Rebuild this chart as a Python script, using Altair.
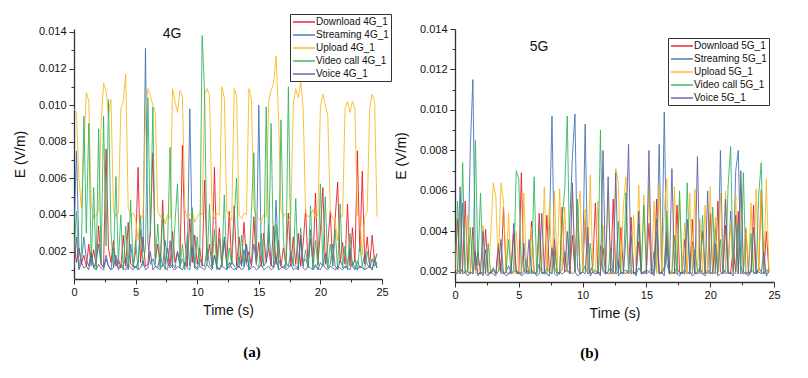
import altair as alt
import pandas as pd

STEP = 0.2  # seconds between samples

# ---------------- 4G (values in mV/m) ----------------
download_4g = [
    2.8, 1.4, 2.2, 1.3, 1.8,  1.2, 2.4, 1.3, 2.1, 1.2,  3.4, 1.3, 1.2, 7.6, 2.2,
    1.4, 2.6, 1.2, 1.6, 1.1,  2.9, 1.2, 3.6, 1.3, 1.2,  2.0, 6.6, 1.4, 2.8, 1.2,
    1.3, 3.2, 7.4, 1.5, 2.4,  1.2, 4.8, 1.3, 2.2, 1.2,  3.1, 1.4, 2.0, 1.3, 7.8,
    2.6, 1.2, 3.8, 1.4, 2.9,  1.3, 2.2, 1.2, 5.9, 1.5,  2.4, 1.2, 6.6, 1.4, 3.3,
    1.2, 2.6, 1.4, 4.2, 1.3,  4.5, 1.2, 2.8, 1.3, 3.6,  1.4, 2.0, 1.2, 3.9, 1.3,
    2.5, 1.2, 3.0, 1.4, 2.2,  1.2, 3.4, 1.3, 2.6, 1.2,  2.2, 1.3, 4.1, 1.2, 2.8,
    1.3, 3.0, 1.2, 2.4, 4.3,  1.2, 2.7, 1.4, 5.2, 1.3,  3.1, 5.5, 1.3, 2.4, 4.2,
    1.2, 3.8, 5.8, 1.4, 2.5,  1.3, 4.6, 1.2, 3.3, 1.4,  7.5, 2.0, 6.4, 1.3, 2.8,
    1.2, 2.9, 1.4, 1.9,
]
streaming_4g = [
    3.0, 7.5, 2.2, 1.4, 2.8,  1.6, 1.2, 2.0, 1.1, 1.5,  2.4, 1.3, 1.1, 1.8, 1.2,
    1.0, 2.2, 1.4, 1.1, 1.3,  1.2, 1.7, 1.0, 2.4, 1.3,  1.1, 1.4, 3.2, 2.0, 13.1,
    2.5, 1.3, 1.6, 1.2, 1.1,  1.9, 1.2, 2.6, 1.4, 1.1,  1.3, 1.1, 2.0, 1.2, 1.6,
    1.2, 1.5, 9.8, 2.4, 1.2,  1.1, 1.6, 1.3, 1.2, 2.2,  1.3, 1.1, 1.8, 1.2, 1.0,
    1.4, 2.8, 1.2, 1.1, 1.5,  1.2, 1.0, 1.7, 1.2, 2.1,  1.3, 1.1, 1.2, 2.4, 1.4,
    10.0, 1.8, 1.2, 1.4, 3.5, 1.3, 1.1, 4.8, 1.6, 1.2,  1.1, 1.4, 1.2, 2.0, 1.3,
    1.2, 1.1, 2.7, 1.4, 1.6,  1.2, 3.2, 1.1, 1.3, 1.0,  1.4, 1.2, 1.9, 1.1, 1.3,
    2.4, 1.2, 1.0, 1.5, 1.2,  1.1, 1.3, 2.2, 1.2, 1.0,  1.5, 1.1, 1.2, 1.9, 1.3,
    1.1, 1.6, 1.2, 1.4,
]
upload_4g = [
    9.8, 9.6, 6.0, 4.4, 7.5,  10.7, 10.2, 4.6, 3.8, 4.0,  4.2, 9.0, 11.2, 10.8, 9.5,
    10.3, 4.3, 3.9, 4.1, 9.8,  10.2, 11.7, 4.4, 3.9, 4.1,  3.8, 2.6, 4.0, 3.8, 9.5,
    10.9, 10.5, 10.0, 9.6, 4.2,  3.9, 4.1, 3.5, 4.0, 3.8,  10.9, 10.2, 9.6, 10.8, 10.5,
    4.3, 3.8, 4.0, 4.2, 3.6,  3.9, 4.1, 4.0, 10.6, 10.9,  10.5, 4.4, 3.8, 4.1, 4.0,
    11.0, 10.4, 4.2, 3.9, 3.7,  10.9, 10.5, 4.0, 3.8, 4.1,  4.0, 10.9, 10.3, 4.4, 3.9,
    3.8, 3.6, 4.0, 3.9, 10.2,  10.8, 11.2, 12.7, 9.4, 4.3,  3.9, 4.1, 3.7, 4.0, 10.1,
    10.9, 10.4, 11.3, 9.8, 4.1,  3.9, 4.0, 4.3, 3.8, 4.0,  9.9, 10.6, 10.0, 9.4, 4.2,
    3.8, 3.6, 2.6, 4.0, 3.9,  9.8, 10.2, 9.6, 10.2, 9.8,  4.0, 3.8, 1.8, 3.9, 4.2,
    9.8, 10.6, 10.2, 3.9,
]
videocall_4g = [
    1.8, 4.2, 1.1, 2.0, 9.4,  3.0, 9.0, 1.2, 5.5, 1.0,  8.7, 1.4, 9.4, 2.3, 10.3,
    3.1, 1.1, 6.1, 1.3, 4.0,  1.0, 3.4, 1.2, 4.8, 1.1,  2.6, 1.0, 3.9, 1.2, 2.2,
    10.4, 2.8, 9.9, 1.3, 3.5,  1.1, 4.1, 1.0, 2.5, 7.7,  1.2, 3.6, 5.7, 1.1, 2.4,
    1.0, 3.0, 1.2, 4.4, 1.1,  2.8, 1.2, 13.8, 10.6, 1.3,  4.6, 1.1, 3.2, 1.0, 2.7,
    1.2, 5.1, 1.0, 2.2, 1.3,  3.8, 6.0, 1.1, 2.9, 1.2,  2.4, 1.0, 4.2, 7.4, 1.3,
    1.1, 3.0, 1.2, 9.9, 2.1,  9.0, 1.3, 3.5, 1.0, 9.2,  2.6, 1.1, 11.0, 2.0, 1.2,
    4.9, 1.0, 3.3, 1.2, 2.1,  1.1, 4.5, 1.0, 2.6, 1.2,  5.7, 1.3, 5.0, 1.1, 2.4,
    1.2, 3.2, 1.0, 4.6, 1.1,  2.3, 1.0, 3.0, 1.2, 1.6,  1.0, 2.4, 1.2, 1.0, 2.0,
    1.3, 1.0, 1.8, 1.1,
]
voice_4g = [
    1.1, 2.8, 1.0, 1.4, 1.1,  1.2, 1.0, 1.9, 1.1, 1.0,  1.3, 1.1, 1.0, 1.6, 1.2,
    1.0, 1.1, 1.8, 1.0, 1.2,  1.1, 1.0, 1.3, 1.1, 1.0,  1.2, 1.0, 1.1, 1.5, 1.0,
    1.1, 2.0, 1.0, 1.2, 1.1,  1.0, 1.3, 1.1, 1.0, 2.6,  1.1, 1.0, 1.2, 1.1, 1.0,
    1.4, 1.1, 1.0, 2.2, 1.1,  1.0, 1.2, 1.1, 1.0, 1.3,  1.1, 1.0, 1.8, 1.1, 1.0,
    1.2, 1.1, 1.0, 1.4, 1.1,  1.0, 1.1, 1.2, 1.0, 1.1,  2.4, 1.0, 1.1, 1.2, 1.0,
    1.1, 1.3, 1.0, 1.1, 1.2,  1.0, 1.1, 1.7, 1.0, 1.1,  1.2, 1.0, 1.1, 1.3, 1.0,
    1.1, 1.0, 2.9, 1.1, 1.0,  1.2, 1.1, 1.0, 1.2, 1.1,  1.0, 1.3, 1.1, 1.0, 1.2,
    1.1, 1.0, 1.2, 1.1, 1.0,  1.2, 1.1, 1.0, 1.4, 1.1,  1.0, 1.2, 1.1, 1.0, 1.1,
    1.2, 1.0, 1.5, 1.1,
]

# ---------------- 5G (values in mV/m) ----------------
download_5g = [
    2.0, 4.6, 1.9, 2.2, 5.5,  2.0, 1.9, 4.2, 2.1, 3.0,  1.9, 2.0, 4.1, 1.9, 2.0,
    2.1, 1.9, 3.4, 2.0, 5.2,  2.0, 1.9, 2.1, 3.9, 2.0,  1.9, 6.9, 2.0, 2.1, 1.9,
    4.5, 2.0, 1.9, 4.9, 2.0,  1.9, 4.8, 2.0, 1.9, 3.6,  2.0, 1.9, 5.2, 2.0, 2.1,
    1.9, 3.8, 2.0, 5.1, 1.9,  2.0, 4.6, 1.9, 2.0, 2.3,  5.4, 1.9, 2.0, 3.2, 2.0,
    1.9, 2.0, 5.6, 1.9, 2.0,  4.2, 2.0, 1.9, 2.1, 4.7,  1.9, 2.0, 3.5, 1.9, 2.0,
    2.1, 4.4, 1.9, 2.0, 5.6,  1.9, 2.0, 2.2, 4.0, 1.9,  2.0, 1.9, 5.3, 2.0, 1.9,
    3.6, 2.0, 1.9, 4.6, 2.0,  1.9, 2.1, 4.0, 1.9, 2.0,  4.9, 1.9, 2.0, 5.5, 2.0,
    1.9, 4.3, 2.0, 1.9, 3.2,  2.0, 5.0, 1.9, 2.0, 4.1,  1.9, 2.0, 5.3, 1.9, 2.1,
    6.0, 1.9, 4.0, 2.0,
]
streaming_5g = [
    2.0, 1.9, 2.2, 5.4, 2.0,  2.1, 8.1, 11.5, 2.3, 1.9,  2.0, 1.8, 3.1, 1.9, 2.0,
    2.2, 1.9, 2.0, 3.6, 1.9,  2.0, 2.3, 1.9, 2.0, 2.1,  1.9, 2.0, 3.4, 1.9, 2.0,
    2.1, 1.9, 2.0, 2.4, 1.9,  2.0, 1.9, 4.1, 9.7, 2.2,  1.9, 2.0, 2.1, 3.0, 2.0,
    4.5, 7.7, 9.8, 2.2, 1.9,  2.0, 9.3, 2.4, 1.9, 2.0,  2.1, 1.9, 3.3, 2.0, 1.9,
    2.0, 2.2, 1.9, 2.0, 2.6,  1.9, 2.0, 2.1, 1.9, 3.8,  2.0, 1.9, 2.2, 2.0, 1.9,
    2.1, 2.0, 1.9, 3.0, 2.0,  8.3, 1.9, 9.9, 2.4, 2.0,  1.9, 2.0, 2.2, 1.9, 2.0,
    2.1, 1.9, 2.0, 3.5, 1.9,  2.0, 2.2, 1.9, 2.0, 2.1,  1.9, 2.0, 4.2, 2.0, 8.0,
    2.2, 1.9, 2.0, 5.0, 2.1,  7.0, 8.0, 2.3, 1.9, 2.0,  1.9, 2.1, 2.0, 1.9, 2.2,
    2.0, 1.9, 2.1, 2.0,
]
upload_5g = [
    2.2, 2.0, 5.0, 2.1, 1.9,  4.8, 2.0, 3.5, 1.9, 2.1,  2.0, 4.3, 2.1, 1.9, 3.8,
    6.4, 5.7, 2.0, 6.4, 5.5,  2.1, 4.9, 2.0, 1.9, 4.0,  2.0, 1.9, 5.9, 2.1, 2.0,
    4.2, 2.0, 1.9, 3.5, 2.1,  6.2, 2.0, 5.4, 1.9, 6.0,  2.0, 6.1, 2.1, 5.2, 2.0,
    1.9, 6.0, 2.1, 4.6, 6.0,  2.0, 5.1, 1.9, 6.8, 2.1,  2.0, 5.5, 1.9, 4.3, 2.0,
    6.0, 2.1, 1.9, 7.1, 6.4,  2.0, 5.3, 6.7, 2.1, 1.9,  4.8, 2.0, 6.3, 1.9, 5.8,
    2.0, 6.4, 2.1, 5.5, 1.9,  6.3, 2.0, 5.0, 6.6, 2.1,  1.9, 6.2, 2.0, 5.6, 2.0,
    4.4, 1.9, 5.9, 2.1, 6.1,  2.0, 4.6, 2.0, 5.3, 1.9,  6.2, 2.1, 4.7, 1.9, 5.9,
    2.0, 6.0, 2.1, 4.5, 2.0,  5.8, 1.9, 6.3, 2.0, 4.2,  2.1, 5.4, 1.9, 6.1, 2.0,
    6.1, 2.0, 6.6, 2.0,
]
videocall_5g = [
    2.1, 5.5, 1.9, 7.4, 2.0,  2.0, 4.2, 1.9, 8.5, 2.3,  5.9, 1.9, 2.0, 3.4, 1.9,
    2.1, 1.9, 2.0, 2.4, 1.9,  2.0, 3.6, 1.9, 2.1, 7.0,  6.6, 1.9, 2.0, 2.6, 1.9,
    2.0, 6.7, 1.9, 4.1, 2.0,  1.9, 2.2, 2.0, 1.9, 3.0,  2.0, 1.9, 4.6, 6.1, 9.7,
    2.1, 1.9, 2.0, 5.6, 1.9,  2.0, 2.3, 1.9, 3.4, 2.0,  1.9, 2.0, 9.0, 2.2, 1.9,
    2.0, 3.2, 1.9, 2.0, 4.5,  1.9, 2.0, 5.9, 1.9, 2.1,  2.0, 1.9, 4.4, 2.0, 5.3,
    1.9, 2.0, 2.2, 1.9, 4.0,  2.0, 1.9, 2.1, 5.0, 1.9,  2.0, 3.8, 1.9, 6.0, 2.0,
    1.9, 6.4, 2.0, 1.9, 3.1,  2.0, 1.9, 4.8, 2.0, 1.9,  2.1, 5.2, 1.9, 2.0, 3.6,
    1.9, 2.0, 6.2, 8.2, 2.0,  1.9, 4.4, 2.0, 6.9, 1.9,  2.0, 3.9, 1.9, 2.0, 5.8,
    7.4, 2.0, 1.9, 2.1,
]
voice_5g = [
    1.9, 2.0, 6.2, 1.9, 2.0,  1.8, 2.0, 1.9, 3.0, 1.8,  2.0, 4.0, 1.9, 1.8, 2.0,
    1.9, 1.8, 3.2, 1.9, 2.0,  1.8, 1.9, 2.0, 4.4, 1.9,  2.0, 1.8, 1.9, 2.0, 3.6,
    1.9, 2.0, 1.8, 1.9, 4.9,  2.0, 1.9, 1.8, 3.2, 1.9,  1.8, 2.0, 1.9, 2.0, 4.0,
    1.9, 6.4, 2.0, 1.8, 1.9,  2.0, 1.9, 4.2, 1.8, 2.0,  1.9, 2.0, 1.8, 8.0, 1.9,
    6.7, 1.9, 2.0, 6.9, 1.8,  2.0, 1.9, 3.8, 8.3, 1.9,  2.0, 1.8, 5.0, 1.9, 2.0,
    1.9, 8.0, 2.0, 1.8, 4.6,  1.9, 2.0, 1.8, 3.3, 1.9,  7.1, 2.0, 1.9, 1.8, 2.0,
    1.9, 4.6, 2.0, 1.8, 1.9,  7.7, 2.0, 1.9, 1.8, 6.0,  1.9, 2.0, 3.4, 1.8, 1.9,
    2.0, 5.6, 1.9, 2.0, 1.8,  4.8, 1.9, 7.0, 2.0, 1.9,  1.8, 2.0, 4.2, 1.9, 2.0,
    1.9, 3.0, 1.8, 2.0,
]

names_4g = ["Download 4G_1", "Streaming 4G_1", "Upload 4G_1", "Video call 4G_1", "Voice 4G_1"]
names_5g = ["Download 5G_1", "Streaming 5G_1", "Upload 5G_1", "Video call 5G_1", "Voice 5G_1"]
colors = ["#e8141c", "#3d6fb0", "#f7b719", "#2eb35c", "#585ca5"]

x_ticks = [0, 2.5, 5, 7.5, 10, 12.5, 15, 17.5, 20, 22.5, 25]
y_ticks_4g = [i / 1000 for i in range(1, 15)]
y_ticks_5g = [i / 1000 for i in range(2, 15)]


def long_frame(names, arrays):
    rows = []
    for k, (n, arr) in enumerate(zip(names, arrays)):
        for i, v in enumerate(arr):
            rows.append({"series": n, "order": k, "t": round(i * STEP, 2), "E": v / 1000.0})
    return pd.DataFrame(rows)


df4 = long_frame(names_4g, [download_4g, streaming_4g, upload_4g, videocall_4g, voice_4g])
df5 = long_frame(names_5g, [download_5g, streaming_5g, upload_5g, videocall_5g, voice_5g])

FONT = "Liberation Sans"


def panel(df, names, ydom, yticks, width, height, tag, tag_x, tag_y, leg_x, leg_y, cap, cap_dx, cap_off):
    xaxis = alt.Axis(
        values=x_ticks, title="Time (s)", labelFlush=False, labelOverlap=False,
        labelExpr="datum.value % 5 == 0 ? datum.label : ''",
        tickSize={"condition": {"test": "datum.value % 5 == 0", "value": 5}, "value": 3},
        labelPadding=2, titlePadding=6,
    )
    yaxis = alt.Axis(
        values=yticks, title="E  (V/m)", format=".3f", labelOverlap=False,
        labelExpr="round(datum.value * 1000) % 2 == 0 ? datum.label : ''",
        tickSize={"condition": {"test": "round(datum.value * 1000) % 2 == 0", "value": 5}, "value": 3},
        labelPadding=3, titlePadding=11,
    )
    legend = alt.Legend(
        title=None, orient="none", legendX=leg_x, legendY=leg_y,
        symbolType="M-1,0H3.4", symbolSize=100, symbolStrokeWidth=1.6,
        labelFont=FONT, labelFontSize=10, labelColor="#111", labelOffset=12,
        strokeColor="#333", fillColor="white", padding=2, rowPadding=2,
    )
    lines = alt.Chart(df).mark_line(strokeWidth=1, opacity=0.85, clip=True).encode(
        x=alt.X("t:Q", scale=alt.Scale(domain=[0, 25], nice=False, zero=False), axis=xaxis),
        y=alt.Y("E:Q", scale=alt.Scale(domain=ydom, nice=False, zero=False), axis=yaxis),
        color=alt.Color("series:N", scale=alt.Scale(domain=names, range=colors), legend=legend),
        order=alt.Order("order:Q"),
    )
    label = alt.Chart(pd.DataFrame({"tag": [tag]})).mark_text(
        font=FONT, fontSize=14, color="#111", baseline="middle", align="center"
    ).encode(text="tag:N", x=alt.value(tag_x), y=alt.value(tag_y))
    return alt.layer(lines, label).properties(
        width=width, height=height,
        title=alt.TitleParams(cap, orient="bottom", font="Liberation Serif", fontSize=15,
                              fontWeight="bold", color="#000", dx=cap_dx, offset=cap_off),
    )


left = panel(df4, names_4g, [0.0005, 0.01416], y_ticks_4g, 308, 250, "4G", 98, 5,
             216, -15, "(a)", 24, 28)
right = panel(df5, names_5g, [0.0015, 0.014], y_ticks_5g, 319, 253, "5G", 84, 18,
              213, 9, "(b)", -25, 26)

chart = (
    alt.hconcat(left, right, spacing=2)
    .resolve_scale(color="independent")
    .configure_view(strokeWidth=0)
    .configure_axis(
        grid=False, domainColor="#333", domainWidth=1.3, tickColor="#333", tickWidth=1,
        labelFont=FONT, labelFontSize=11, labelColor="#111",
        titleFont=FONT, titleFontSize=14, titleFontWeight="normal", titleColor="#111",
    )
    .properties(background="white")
)

chart.save("out.html", embed_options={"renderer": "svg", "actions": False})
